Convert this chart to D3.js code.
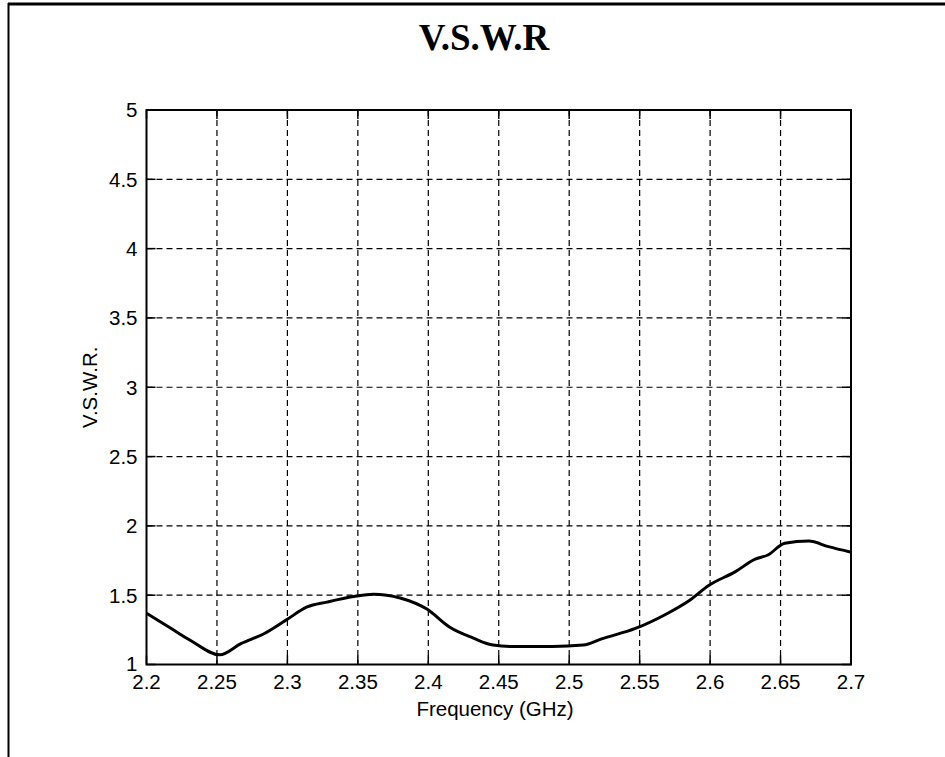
<!DOCTYPE html>
<html>
<head>
<meta charset="utf-8">
<title>V.S.W.R</title>
<style>
  body { margin: 0; background: #fff; }
  svg { display: block; }
  .tick-label { font-family: "Liberation Sans", Arial, sans-serif; font-size: 20.5px; fill: #000; }
</style>
</head>
<body>
<script src="https://cdn.jsdelivr.net/npm/d3@7"></script>
<script>
var freq = [2.2, 2.219, 2.231, 2.252, 2.267, 2.283, 2.299, 2.314, 2.328, 2.347, 2.361,
            2.38, 2.399, 2.415, 2.432, 2.446, 2.46, 2.488, 2.51, 2.523, 2.547, 2.57,
            2.585, 2.599, 2.618, 2.632, 2.641, 2.653, 2.67, 2.684, 2.7];
var vswr = [1.37, 1.25, 1.175, 1.07, 1.15, 1.22, 1.32, 1.415, 1.45, 1.49, 1.507,
            1.48, 1.40, 1.27, 1.19, 1.14, 1.13, 1.13, 1.14, 1.185, 1.26, 1.37,
            1.46, 1.57, 1.67, 1.76, 1.79, 1.875, 1.89, 1.85, 1.81];
var xTicks = [2.2, 2.25, 2.3, 2.35, 2.4, 2.45, 2.5, 2.55, 2.6, 2.65, 2.7];
var yTicks = [1, 1.5, 2, 2.5, 3, 3.5, 4, 4.5, 5];

var width = 945, height = 757;
// plot box edges (window.top is reserved, so use own names)
var pLeft = 146.5, pRight = 851, pTop = 110, pBottom = 664.5;

var svg = d3.select("body").append("svg")
    .attr("width", width)
    .attr("height", height);

// outer frame (top and left edges only are visible)
svg.append("line").attr("x1", 8).attr("x2", width).attr("y1", 4).attr("y2", 4)
    .attr("stroke", "#000").attr("stroke-width", 3);
svg.append("line").attr("x1", 8.5).attr("x2", 8.5).attr("y1", 3).attr("y2", height)
    .attr("stroke", "#000").attr("stroke-width", 2);

svg.append("text")
    .attr("x", 484).attr("y", 50)
    .attr("text-anchor", "middle")
    .attr("font-family", "'Liberation Serif', 'Times New Roman', serif")
    .attr("font-weight", "bold")
    .attr("font-size", 37)
    .text("V.S.W.R");

var x = d3.scaleLinear().domain([2.2, 2.7]).range([pLeft, pRight]);
var y = d3.scaleLinear().domain([1, 5]).range([pBottom, pTop]);

// dashed grid
var grid = svg.append("g")
    .attr("stroke", "#000")
    .attr("stroke-width", 1.2)
    .attr("stroke-dasharray", "6,4");
grid.selectAll(".gx")
    .data(xTicks.slice(1, -1))
    .join("line")
    .attr("x1", d => x(d)).attr("x2", d => x(d))
    .attr("y1", pTop).attr("y2", pBottom);
grid.selectAll(".gy")
    .data(yTicks.slice(1, -1))
    .join("line")
    .attr("x1", pLeft).attr("x2", pRight)
    .attr("y1", d => y(d)).attr("y2", d => y(d));

// inward tick marks on all four sides
var tickLen = 9;
var ticks = svg.append("g").attr("stroke", "#000").attr("stroke-width", 1.5);
xTicks.forEach(function (t) {
    ticks.append("line").attr("x1", x(t)).attr("x2", x(t)).attr("y1", pBottom).attr("y2", pBottom - tickLen);
    ticks.append("line").attr("x1", x(t)).attr("x2", x(t)).attr("y1", pTop).attr("y2", pTop + tickLen);
});
yTicks.forEach(function (t) {
    ticks.append("line").attr("x1", pLeft).attr("x2", pLeft + tickLen).attr("y1", y(t)).attr("y2", y(t));
    ticks.append("line").attr("x1", pRight).attr("x2", pRight - tickLen).attr("y1", y(t)).attr("y2", y(t));
});

// axes box
svg.append("rect")
    .attr("x", pLeft).attr("y", pTop)
    .attr("width", pRight - pLeft).attr("height", pBottom - pTop)
    .attr("fill", "none")
    .attr("stroke", "#000")
    .attr("stroke-width", 2);

// tick labels
svg.append("g").selectAll("text")
    .data(xTicks)
    .join("text")
    .attr("class", "tick-label")
    .attr("x", d => x(d)).attr("y", 689)
    .attr("text-anchor", "middle")
    .text(d => d3.format("")(d));
svg.append("g").selectAll("text")
    .data(yTicks)
    .join("text")
    .attr("class", "tick-label")
    .attr("x", pLeft - 9).attr("y", d => y(d))
    .attr("dy", d => d === 1 ? "0.3em" : "0.36em")
    .attr("text-anchor", "end")
    .text(d => d3.format("")(d));

// axis titles
svg.append("text")
    .attr("class", "tick-label")
    .attr("x", 495).attr("y", 716)
    .attr("text-anchor", "middle")
    .text("Frequency (GHz)");
svg.append("text")
    .attr("class", "tick-label")
    .attr("transform", `translate(97,${(pTop + pBottom) / 2}) rotate(-90)`)
    .attr("text-anchor", "middle")
    .text("V.S.W.R.");

// data curve
var pts = freq.map((f, i) => [f, vswr[i]]);
var line = d3.line()
    .x(d => x(d[0]))
    .y(d => y(d[1]))
    .curve(d3.curveMonotoneX);
svg.append("path")
    .datum(pts)
    .attr("d", line)
    .attr("fill", "none")
    .attr("stroke", "#000")
    .attr("stroke-width", 3)
    .attr("stroke-linejoin", "round");
</script>
</body>
</html>
